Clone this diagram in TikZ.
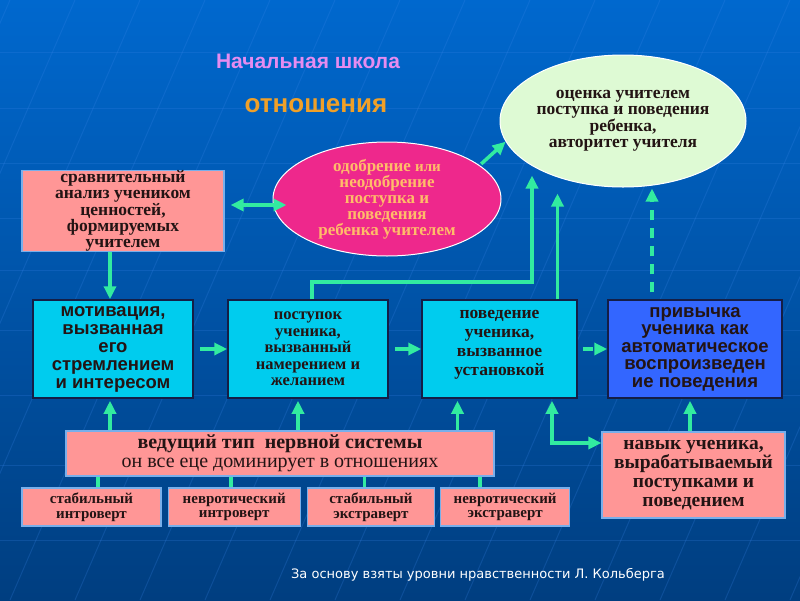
\documentclass[tikz,border=0pt]{standalone}
\usepackage{fontspec}
\setmainfont{Liberation Serif}
\setsansfont{Liberation Sans}
\newfontfamily\notefont{DejaVu Sans}
\usetikzlibrary{positioning,shapes.geometric,arrows.meta}
\definecolor{bgtop}{RGB}{0,104,206}
\definecolor{bgbot}{RGB}{0,62,128}
\definecolor{gridblue}{RGB}{60,135,235}
\definecolor{salmon}{RGB}{255,150,150}
\definecolor{cyanbox}{RGB}{0,204,238}
\definecolor{habblue}{RGB}{51,102,255}
\definecolor{framenavy}{RGB}{20,30,70}
\definecolor{framelight}{RGB}{120,175,235}
\definecolor{linkgreen}{RGB}{50,235,160}
\definecolor{mint}{RGB}{222,250,212}
\definecolor{rose}{RGB}{238,40,140}
\definecolor{peach}{RGB}{255,188,105}
\definecolor{ink}{RGB}{35,20,20}
\definecolor{lilac}{RGB}{230,140,240}
\definecolor{amber}{RGB}{240,160,40}
\tikzset{node distance=6pt, auto}

\begin{document}
\begin{tikzpicture}[x=1pt,y=-1pt,
  gridline/.style={draw=gridblue, opacity=0.22, line width=1pt},
  salm/.style={rectangle, fill=salmon, draw=framelight, line width=1.2pt,
    inner sep=0pt, align=center, text=ink},
  cyanrect/.style={rectangle, fill=cyanbox, draw=framenavy, line width=1.5pt,
    inner sep=0pt, align=center, text=ink},
  oval/.style={ellipse, draw=white, line width=1pt, inner sep=0pt, align=center},
  greenline/.style={draw=linkgreen, line width=3.5pt},
  greenlink/.style={greenline, -{Triangle[length=13pt,width=12pt]}},
  twolink/.style={greenline, {Triangle[length=13pt,width=12pt]}-{Triangle[length=13pt,width=12pt]}}
]
\useasboundingbox (0,0) rectangle (800,600);
\fill[top color=bgtop, bottom color=bgbot] (0,0) rectangle (800,600);
\begin{scope}
\clip (0,0) rectangle (800,600);
\foreach \h in {52,108,163,218,270,330,395,465,540}
  \draw[gridline] (0,\h) -- (800,\h);
\foreach \s in {-250,-185,...,800}
  \draw[gridline] (\s,600) -- (\s+260,0);
\end{scope}

\node[anchor=base, text=lilac, font=\sffamily\bfseries\fontsize{21}{21}\selectfont] (ttl) at (308,68) {Начальная школа};
\node[anchor=base, text=amber, font=\sffamily\bfseries\fontsize{26}{26}\selectfont] (rel) at (316,112) {отношения};

\node[oval, fill=mint, text=ink, minimum width=246pt, minimum height=132pt,
  font=\bfseries\fontsize{17.5}{16.5}\selectfont] (grn) at (623,121)
  {оценка учителем\\поступка и поведения\\ребенка,\\авторитет учителя};
\node[oval, fill=rose, text=peach, minimum width=228pt, minimum height=114pt,
  font=\bfseries\fontsize{17}{16}\selectfont] (pnk) at (387,199)
  {одобрение {\fontsize{15}{15}\selectfont или}\\неодобрение\\поступка и\\поведения\\ребенка учителем};
\node[salm, minimum width=202pt, minimum height=80pt,
  font=\bfseries\fontsize{17.5}{16.2}\selectfont] (cmp) at (123,211)
  {сравнительный\\анализ учеником\\ценностей,\\формируемых\\учителем};

\node[cyanrect, minimum width=160pt, minimum height=98pt,
  font=\sffamily\bfseries\fontsize{18.5}{18}\selectfont] (mot) at (113,349)
  {мотивация,\\вызванная\\его\\стремлением\\и интересом};
\node[cyanrect, minimum width=160pt, minimum height=98pt,
  font=\bfseries\fontsize{16.5}{16.5}\selectfont] (act) at (308,349)
  {поступок\\ученика,\\вызванный\\намерением и\\желанием};
\node[cyanrect, minimum width=155pt, minimum height=98pt, text depth=12pt,
  font=\bfseries\fontsize{17.5}{19}\selectfont] (beh) at (499.5,349)
  {поведение\\ученика,\\вызванное\\установкой};
\node[cyanrect, fill=habblue, minimum width=174pt, minimum height=98pt,
  font=\sffamily\bfseries\fontsize{18.5}{17.5}\selectfont] (hab) at (695,349)
  {привычка\\ученика как\\автоматическое\\воспроизведен\\ие поведения};

\node[salm, minimum width=428pt, minimum height=45pt,
  font=\fontsize{20}{19}\selectfont] (ner) at (280,453.5)
  {\textbf{ведущий тип\ \ нервной системы}\\он все еце доминирует в отношениях};
\node[salm, minimum width=139pt, minimum height=38pt,
  font=\bfseries\fontsize{15}{14.5}\selectfont] (si) at (91.5,507) {стабильный\\интроверт};
\node[salm, minimum width=132pt, minimum height=38pt, right=6pt of si,
  font=\bfseries\fontsize{15}{14.5}\selectfont] (ni) {невротический\\интроверт};
\node[salm, minimum width=127pt, minimum height=38pt, right=6pt of ni,
  font=\bfseries\fontsize{15}{14.5}\selectfont] (se) {стабильный\\экстраверт};
\node[salm, minimum width=129pt, minimum height=38pt, right=5pt of se,
  font=\bfseries\fontsize{15}{14.5}\selectfont] (ne) {невротический\\экстраверт};

\node[salm, minimum width=183pt, minimum height=86pt,
  font=\bfseries\fontsize{19.5}{19}\selectfont] (skl) at (693.5,475)
  {навык ученика,\\вырабатываемый\\поступками и\\поведением};

\node[anchor=base, text=white, font=\notefont\fontsize{13}{13}\selectfont] (src) at (478,578)
  {За основу взяты уровни нравственности Л. Кольберга};

\draw[twolink, shorten <=6pt, shorten >=-14pt] ([yshift=6pt]cmp.east) -- ([yshift=6pt]cmp.east -| pnk.west);
\draw[greenlink] ([xshift=-3pt]cmp.south -| mot.north) -- ([xshift=-3pt]mot.north);
\draw[greenlink, shorten <=6pt] (mot.east) -- (act.west);
\draw[greenlink, shorten <=6pt] (act.east) -- (beh.west);
\draw[greenlink, dash pattern=on 10pt off 6pt, shorten <=5pt] (beh.east) -- (hab.west);
\draw[greenlink, shorten <=2pt] (pnk.20) -- (grn.190);

\coordinate (kink) at (532,282);
\draw[greenlink] ([xshift=4pt]act.north) |- (kink) -- ([yshift=12pt]kink |- grn.south);
\draw[greenlink] ([xshift=58pt]beh.north) -- ([xshift=58pt,yshift=-6pt]beh.north |- grn.south);
\draw[greenlink, dash pattern=on 10pt off 8pt] ([xshift=-43pt,yshift=7pt]hab.north) -- ([xshift=-43pt,yshift=-1pt]hab.north |- grn.south);

\draw[greenlink] ([xshift=-3pt]mot.south |- ner.north) -- ([xshift=-3pt,yshift=-2pt]mot.south);
\draw[greenlink] ([xshift=-10pt]act.south |- ner.north) -- ([xshift=-10pt,yshift=-2pt]act.south);
\draw[greenlink] ([xshift=-42pt]beh.south |- ner.north) -- ([xshift=-42pt,yshift=-2pt]beh.south);

\foreach \leaf/\dx in {si/6.5,ni/-3,se/-6.5,ne/-25}
  \draw[greenline] ([xshift=\dx pt]\leaf.north) -- ([xshift=\dx pt]\leaf.north |- ner.south);

\draw[greenlink] ([xshift=-3.5pt]skl.north) -- ([xshift=-3.5pt,yshift=-2pt]skl.north |- hab.south);
\draw[twolink] ([xshift=52.5pt,yshift=-2pt]beh.south) |- ([yshift=32pt]skl.west);
\end{tikzpicture}
\end{document}
